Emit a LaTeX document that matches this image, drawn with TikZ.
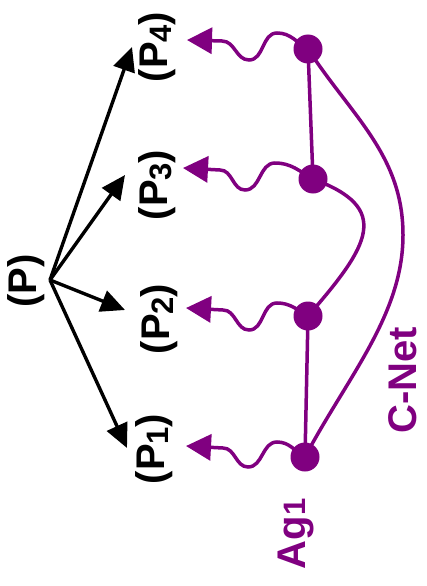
\documentclass[tikz,border=0pt]{standalone}
\usepackage{fontspec}
\setmainfont{Liberation Sans}
\usetikzlibrary{arrows.meta}
\definecolor{netpurple}{RGB}{128,0,128}
\newcommand\lowdigit[1]{\raisebox{-0.1em}{\fontsize{31}{31}\selectfont #1}}
\newcommand\basedigit[1]{{\fontsize{31}{31}\selectfont #1}}

\begin{document}
\begin{tikzpicture}[x=1pt,y=1pt,
  lbl/.style={rotate=90, anchor=base, inner sep=0pt,
    font=\fontsize{40}{40}\selectfont\bfseries},
  fan/.style={line width=3.4pt, -{Triangle[length=24pt,width=22pt]}},
  agent/.style={circle, fill=netpurple, minimum size=29pt, inner sep=0pt},
  link/.style={netpurple, line width=3.5pt},
  wave/.style={netpurple, line width=3.5pt, -{Triangle[length=25pt,width=26pt]}},
]
\useasboundingbox (0,0) rectangle (426,-586);

% labels
\node[lbl] (p)  at (36,-281)  {(P)};
\node[lbl] (p4) at (167,-47)  {(P\lowdigit{4})};
\node[lbl] (p3) at (167,-185) {(P\lowdigit{3})};
\node[lbl] (p2) at (169,-319) {(P\lowdigit{2})};
\node[lbl] (p1) at (164,-449) {(P\lowdigit{1})};
\node[lbl, text=netpurple] (ag)   at (305,-534) {Ag\basedigit{1}};
\node[lbl, text=netpurple] (cnet) at (416,-380) {C-Net};

% fan of black arrows
\coordinate (root) at (50,-280);
\coordinate (a4) at (132,-47);
\coordinate (a3) at (125,-175);
\coordinate (a2) at (125,-310);
\coordinate (a1) at (127,-448);
\foreach \t in {a1,a2,a3,a4} \draw[fan] (root) -- (\t);

% agent positions
\coordinate (d4) at (308,-49);
\coordinate (d3) at (313,-179);
\coordinate (d2) at (308,-316);
\coordinate (d1) at (305,-457);

% network links
\draw[link] (d4) -- (d3);
\draw[link] (d2) -- (d1);
\draw[link] (d3) .. controls (392,-208) and (370,-245) .. (d2);
\draw[link] (d4) .. controls (351.5,-116) and (403,-155) .. (403,-235)
                 .. controls (403,-315) and (347,-377.5) .. (d1);

% wavy arrows towards the P labels
\coordinate (t4) at (187,-40);
\coordinate (t3) at (183,-168);
\coordinate (t2) at (186,-308);
\coordinate (t1) at (186,-446);
\draw[wave] (d4) to[out=150,in=0] ++(-31,16) to[out=180,in=0] ++(-28,-27)
            to[out=180,in=0] ++(-27,19) -- (t4);
\draw[wave] (d3) to[out=150,in=0] ++(-38,16) to[out=180,in=0] ++(-30,-27)
            to[out=180,in=0] ++(-25,20) -- (t3);
\draw[wave] (d2) to[out=150,in=0] ++(-31,13) to[out=180,in=0] ++(-28,-27)
            to[out=180,in=0] ++(-26,20) -- (t2);
\draw[wave] (d1) to[out=150,in=0] ++(-28,15) to[out=180,in=0] ++(-29,-25)
            to[out=180,in=0] ++(-25,19) -- (t1);

% agents
\foreach \i in {1,...,4} \node[agent] (dot\i) at (d\i) {};
\end{tikzpicture}
\end{document}
